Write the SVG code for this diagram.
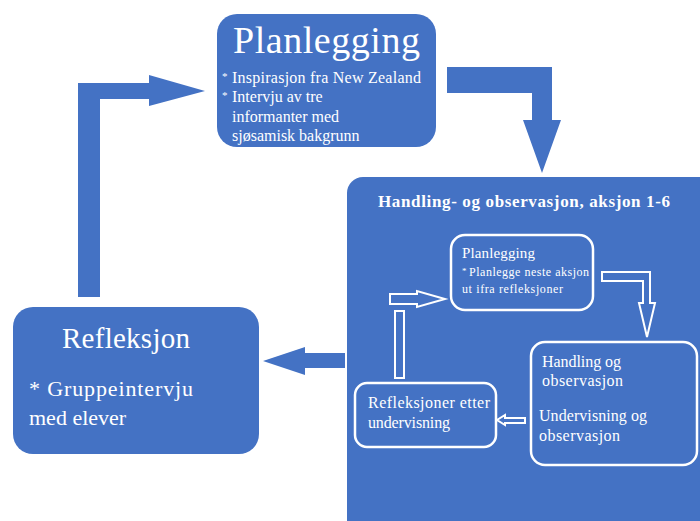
<svg xmlns="http://www.w3.org/2000/svg" width="700" height="521" viewBox="0 0 700 521">
<style>
.blue{fill:#4472C4}
.t{fill:#fff;font-family:"Liberation Serif","Times New Roman",serif}
.inner{fill:none;stroke:#fff;stroke-width:2.5}
.hollow{fill:none;stroke:#fff;stroke-width:2}
</style>
<rect width="700" height="521" fill="#fff"/>
<g id="connectors">
  <path class="blue" d="M78,83 H149 V75 L205,91 L149,106 V99 H100 V297 H78 Z"/>
  <path class="blue" d="M447,67 H552 V120 H561 L542,173 L523,120 H532 V93 H447 Z"/>
  <path class="blue" d="M345,353 H305 V347 L263,361 L305,375 V368 H345 Z"/>
</g>
<g id="node-planlegging">
  <rect class="blue" x="217" y="14" width="219" height="133" rx="20"/>
  <text class="t" x="233" y="53" font-size="38" textLength="187">Planlegging</text>
  <text class="t" x="222" y="83" font-size="16"><tspan font-size="11" dy="-3">*</tspan><tspan dy="3" x="232" textLength="189">Inspirasjon fra New Zealand</tspan></text>
  <text class="t" x="222" y="102" font-size="16"><tspan font-size="11" dy="-3">*</tspan><tspan dy="3" x="232">Intervju av tre</tspan></text>
  <text class="t" x="232" y="122" font-size="16">informanter med</text>
  <text class="t" x="232" y="141" font-size="16">sjøsamisk bakgrunn</text>
</g>
<g id="node-handling">
  <rect class="blue" x="347" y="177" width="373" height="364" rx="16"/>
  <text class="t" x="378" y="207" font-size="17" font-weight="bold" textLength="292">Handling- og observasjon, aksjon 1-6</text>
</g>
<g id="node-refleksjon">
  <rect class="blue" x="13" y="307" width="246" height="147" rx="20"/>
  <text class="t" x="62" y="348" font-size="29" textLength="128">Refleksjon</text>
  <text class="t" x="29" y="396" font-size="22" textLength="164">* Gruppeintervju</text>
  <text class="t" x="29" y="425" font-size="22">med elever</text>
</g>
<g id="inner-connectors">
  <path class="hollow" d="M602,272 H650 V303 H655 L647,337 L639,303 H643 V281 H602 Z"/>
  <path class="hollow" d="M525,418 H505 V415 L497,420 L505,425 V423 H525 Z"/>
  <rect class="hollow" x="395" y="311" width="9" height="67"/>
  <path class="hollow" d="M390,294 H417 V291 L445,299 L417,307 V304 H390 Z"/>
</g>
<g id="node-inner-planlegging">
  <rect class="inner" x="451" y="235" width="142" height="75" rx="14"/>
  <text class="t" x="462" y="258" font-size="15" textLength="73">Planlegging</text>
  <text class="t" x="462" y="276" font-size="12"><tspan font-size="9" dy="-2">*</tspan><tspan dy="2" x="469" textLength="120">Planlegge neste aksjon</tspan></text>
  <text class="t" x="462" y="293" font-size="12" textLength="101">ut ifra refleksjoner</text>
</g>
<g id="node-inner-handling">
  <rect class="inner" x="531" y="342" width="166" height="123" rx="14"/>
  <text class="t" x="542" y="367" font-size="16" textLength="79">Handling og</text>
  <text class="t" x="542" y="386" font-size="16" textLength="81">observasjon</text>
  <text class="t" x="539" y="421" font-size="16" textLength="108">Undervisning og</text>
  <text class="t" x="539" y="441" font-size="16" textLength="81">observasjon</text>
</g>
<g id="node-inner-refleksjoner">
  <rect class="inner" x="355" y="383" width="141" height="64" rx="12"/>
  <text class="t" x="368" y="408" font-size="16" textLength="122">Refleksjoner etter</text>
  <text class="t" x="368" y="428" font-size="16" textLength="82">undervisning</text>
</g>
</svg>
